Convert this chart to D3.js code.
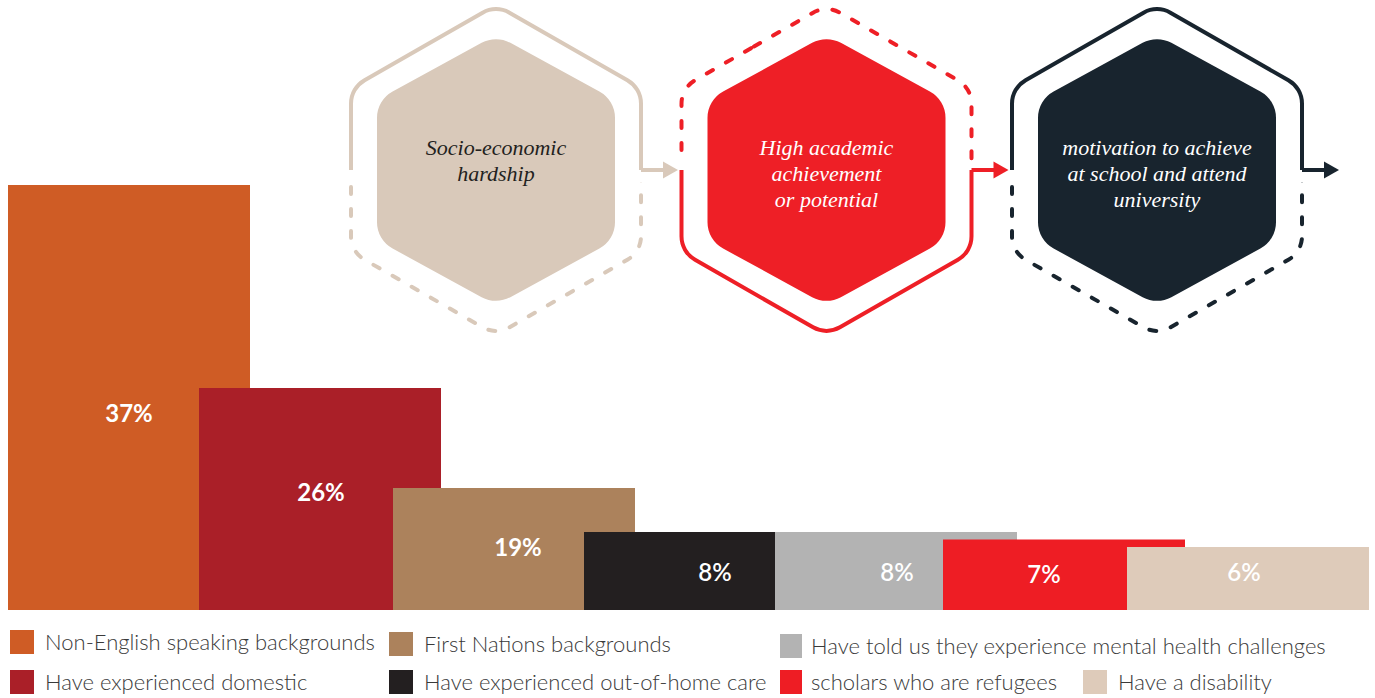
<!DOCTYPE html>
<html><head><meta charset="utf-8">
<script src="https://cdn.jsdelivr.net/npm/d3@7"></script>
<style>html,body{margin:0;padding:0;background:#fff;overflow:hidden}</style>
</head><body><svg id="chart" width="1375" height="698"></svg>
<script>
// ---------- data ----------
const categories = [
  "Non-English speaking backgrounds",
  "Have experienced domestic",
  "First Nations backgrounds",
  "Have experienced out-of-home care",
  "Have told us they experience mental health challenges",
  "scholars who are refugees",
  "Have a disability"
];
const values = [37, 26, 19, 8, 8, 7, 6];
const valueLabels = ["37%", "26%", "19%", "8%", "8%", "7%", "6%"];
const colors = ["#CF5C25", "#AA1F28", "#AC825C", "#231F20", "#B3B3B3", "#EE1D24", "#DECBBA"];

const stepTitles = [
  ["Socio-economic", "hardship"],
  ["High academic", "achievement", "or potential"],
  ["motivation to achieve", "at school and attend", "university"]
];
const stepColors = ["#D9C9BA", "#EE1F26", "#18242E"];
const stepTextColors = ["#231F20", "#FFFFFF", "#FFFFFF"];
const stepTopDashed = [false, true, false];

// ---------- layout ----------
const baseY = 610, barW = 242;
const svg = d3.select("#chart");

// designed (non-proportional) bar heights of the infographic
const y = d3.scaleLinear().domain([6, 8, 19, 26, 37]).range([547, 532, 488, 388, 185]);
const x = d3.scaleLinear().domain(d3.range(7)).range([8, 199, 393, 584, 775, 943, 1127]);
const labelShiftX = [0, 1, 4, 10, 1, -20, -4];
const labelShiftY = [16, -7, -2, 1, 1, 0, -6];

const bars = values.map((v, i) => ({ v, i, label: valueLabels[i], color: colors[i] }));

svg.append("g").selectAll("rect").data(bars).join("rect")
  .attr("x", d => x(d.i)).attr("y", d => y(d.v))
  .attr("width", barW).attr("height", d => baseY - y(d.v))
  .attr("fill", d => d.color);

svg.append("g").selectAll("text").data(bars).join("text")
  .attr("x", d => x(d.i) + barW / 2 + labelShiftX[d.i])
  .attr("y", d => (y(d.v) + baseY) / 2 + labelShiftY[d.i])
  .attr("dy", "0.36em")
  .attr("text-anchor", "middle")
  .attr("font-family", "Lato, sans-serif")
  .attr("font-weight", d => d.i < 3 ? 700 : 600)
  .attr("font-size", 24)
  .attr("fill", "#fff")
  .text(d => d.label);

// ---------- legend ----------
const legendCols = [10, 389, 780, 1083];
const legendRows = [642, 682];
const legendPos = bars.map(d => d.i === 6 ? { c: 3, r: 1 } : { c: Math.floor(d.i / 2), r: d.i % 2 });
const lg = svg.append("g").selectAll("g").data(bars).join("g")
  .attr("transform", d => {
    const p = legendPos[d.i];
    const dy = (p.c >= 1 && p.r === 0) ? 2 + (p.c === 2 ? 2 : 0) : 0;
    return `translate(${legendCols[p.c]},${legendRows[p.r] + dy})`;
  });
lg.append("rect").attr("x", 0).attr("y", -12).attr("width", d => legendPos[d.i].c === 2 ? 22 : 24).attr("height", 24)
  .attr("fill", d => d.color);
lg.append("text").attr("x", d => legendPos[d.i].c === 2 ? 31 : 35).attr("y", 0).attr("dy", "0.35em")
  .attr("font-family", "Lato, sans-serif").attr("font-weight", 300)
  .attr("font-size", 22).attr("fill", "#3a3a3a")
  .text(d => categories[d.i]);

// ---------- hexagon flow ----------
const hx = d3.scalePoint().domain([0, 1, 2]).range([496, 1157]);
const cy = 170;

function roundedPoly(pts, r) {
  const p = d3.path();
  const n = pts.length;
  const m = [(pts[n - 1][0] + pts[0][0]) / 2, (pts[n - 1][1] + pts[0][1]) / 2];
  p.moveTo(m[0], m[1]);
  for (let k = 0; k < n; k++) {
    const a = pts[k], b = pts[(k + 1) % n];
    p.arcTo(a[0], a[1], b[0], b[1], r);
  }
  p.closePath();
  return p.toString();
}
function hexPts(cx, w, h, top) {
  return [[cx, cy - top], [cx + w, cy - h], [cx + w, cy + h], [cx, cy + top], [cx - w, cy + h], [cx - w, cy - h]];
}

const defs = svg.append("defs");
stepTitles.forEach((lines, k) => {
  const cx = hx(k);
  const g = svg.append("g");
  const outer = roundedPoly(hexPts(cx, 145, 82, 165), 27);
  const topLimit = stepTopDashed[k] ? cy - 8 : cy;
  const botStart = stepTopDashed[k] ? cy : cy + 12;
  defs.append("clipPath").attr("id", "ct" + k).append("rect")
    .attr("x", cx - 200).attr("y", 0).attr("width", 400).attr("height", topLimit);
  defs.append("clipPath").attr("id", "cb" + k).append("rect")
    .attr("x", cx - 200).attr("y", botStart).attr("width", 400).attr("height", 400);

  g.append("path").attr("d", outer).attr("fill", "none")
    .attr("stroke", stepColors[k]).attr("stroke-width", 4).attr("stroke-linecap", "round")
    .attr("stroke-dasharray", stepTopDashed[k] ? "7,15" : null)
    .attr("clip-path", `url(#ct${k})`);
  g.append("path").attr("d", outer).attr("fill", "none")
    .attr("stroke", stepColors[k]).attr("stroke-width", 4).attr("stroke-linecap", "round")
    .attr("stroke-dasharray", stepTopDashed[k] ? null : "7,15")
    .attr("clip-path", `url(#cb${k})`);

  // arrow out of the right side
  const ax0 = cx + 145, tip = cx + 145 + 37;
  g.append("line").attr("x1", ax0).attr("y1", cy).attr("x2", tip - 12).attr("y2", cy)
    .attr("stroke", stepColors[k]).attr("stroke-width", 4);
  g.append("path")
    .attr("d", `M${tip},${cy}L${tip - 15},${cy - 8.5}L${tip - 15},${cy + 8.5}Z`)
    .attr("fill", stepColors[k]);

  // inner filled hexagon
  g.append("path").attr("d", roundedPoly(hexPts(cx, 119, 70, 135), 30))
    .attr("fill", stepColors[k]);

  const t = g.append("text").attr("text-anchor", "middle")
    .attr("font-family", "'Liberation Serif', serif").attr("font-style", "italic")
    .attr("font-size", 22).attr("fill", stepTextColors[k]);
  lines.forEach((ln, j) => {
    t.append("tspan").attr("x", cx).attr("y", 155 + j * 26).text(ln);
  });
});
</script>
</body></html>
